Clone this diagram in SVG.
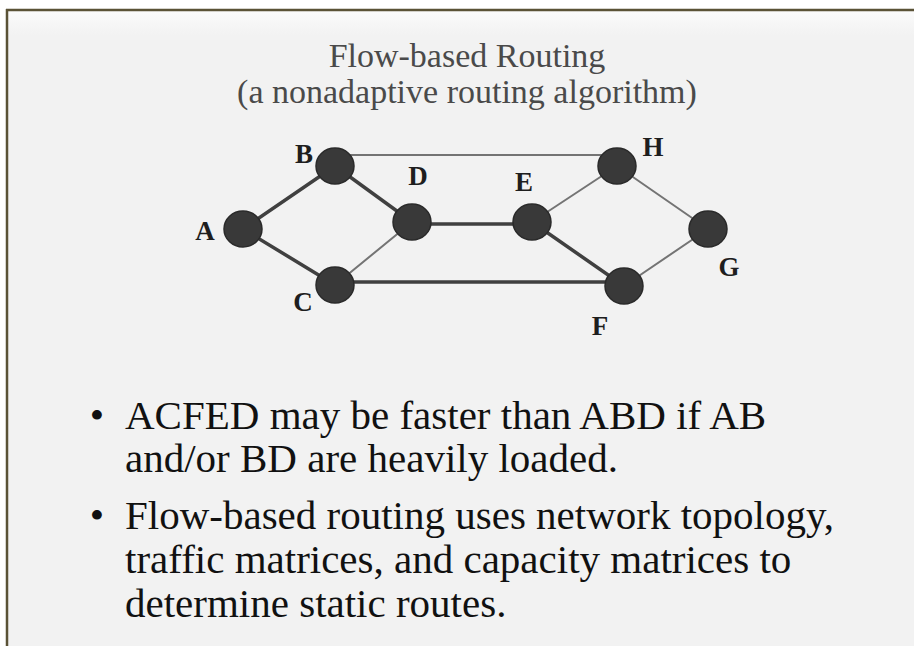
<svg xmlns="http://www.w3.org/2000/svg" width="914" height="646" viewBox="0 0 914 646">
  <defs>
    <linearGradient id="bg" x1="0" y1="0" x2="0" y2="1">
      <stop offset="0" stop-color="#fbfbfb"/>
      <stop offset="0.04" stop-color="#f2f2f2"/>
      <stop offset="1" stop-color="#f2f2f2"/>
    </linearGradient>
  </defs>
  <style>
    .title { font-family: "Liberation Serif", "Times New Roman", serif; font-size: 34px; fill: #4a4a4a; text-anchor: middle; }
    .lbl { font-family: "Liberation Serif", "Times New Roman", serif; font-size: 27px; font-weight: bold; fill: #1e1e1e; text-anchor: middle; }
    .body { font-family: "Liberation Serif", "Times New Roman", serif; font-size: 41px; fill: #111; }
    .bullet { font-family: "Liberation Serif", "Times New Roman", serif; font-size: 41px; fill: #111; text-anchor: middle; }
    .node { fill: #393939; stroke: #2a2a2a; stroke-width: 1.5; }
    .thick { stroke: #404040; stroke-width: 3.5; fill: none; stroke-linecap: round; }
    .thin { stroke: #747474; stroke-width: 2; fill: none; stroke-linecap: round; }
  </style>
  <rect x="0" y="0" width="914" height="646" fill="#ffffff"/>
  <rect x="7" y="10" width="907" height="636" fill="url(#bg)"/>
  <line x1="6" y1="10" x2="914" y2="10" stroke="#5a5236" stroke-width="2.5"/>
  <line x1="7" y1="9" x2="7" y2="646" stroke="#5a5236" stroke-width="2.5"/>

  <g id="title">
    <text class="title" x="467" y="67">Flow-based Routing</text>
    <text class="title" x="467" y="103">(a nonadaptive routing algorithm)</text>
  </g>

  <g id="connectors">
    <line class="thick" x1="243" y1="229" x2="335" y2="166"/>
    <line class="thick" x1="243" y1="229" x2="335" y2="285"/>
    <line class="thick" x1="335" y1="166" x2="412" y2="222"/>
    <line class="thin" x1="335" y1="285" x2="412" y2="222"/>
    <line class="thin" x1="340" y1="155" x2="612" y2="155"/>
    <line class="thick" x1="412" y1="224" x2="532" y2="224"/>
    <line class="thick" x1="335" y1="282" x2="624" y2="282"/>
    <line class="thin" x1="532" y1="222" x2="617" y2="166"/>
    <line class="thick" x1="532" y1="222" x2="624" y2="286"/>
    <line class="thin" x1="617" y1="166" x2="708" y2="229"/>
    <line class="thin" x1="708" y1="229" x2="624" y2="286"/>
  </g>

  <g id="node-A"><ellipse class="node" cx="243" cy="229" rx="19" ry="18"/><text class="lbl" x="205" y="240">A</text></g>
  <g id="node-B"><ellipse class="node" cx="335" cy="166" rx="19" ry="18"/><text class="lbl" x="304" y="163">B</text></g>
  <g id="node-C"><ellipse class="node" cx="335" cy="285" rx="19" ry="18"/><text class="lbl" x="303" y="311">C</text></g>
  <g id="node-D"><ellipse class="node" cx="412" cy="222" rx="19" ry="18"/><text class="lbl" x="418" y="185">D</text></g>
  <g id="node-E"><ellipse class="node" cx="532" cy="222" rx="19" ry="18"/><text class="lbl" x="524" y="191">E</text></g>
  <g id="node-F"><ellipse class="node" cx="624" cy="286" rx="19" ry="18"/><text class="lbl" x="600" y="335">F</text></g>
  <g id="node-G"><ellipse class="node" cx="708" cy="229" rx="19" ry="18"/><text class="lbl" x="729" y="276">G</text></g>
  <g id="node-H"><ellipse class="node" cx="617" cy="166" rx="19" ry="18"/><text class="lbl" x="653" y="156">H</text></g>

  <g id="bullets">
    <text class="bullet" x="97" y="429">•</text>
    <text class="body" x="125" y="429">ACFED may be faster than ABD if AB</text>
    <text class="body" x="125" y="472">and/or BD are heavily loaded.</text>
    <text class="bullet" x="97" y="529">•</text>
    <text class="body" x="125" y="529">Flow-based routing uses network topology,</text>
    <text class="body" x="125" y="573">traffic matrices, and capacity matrices to</text>
    <text class="body" x="125" y="617">determine static routes.</text>
  </g>
</svg>
